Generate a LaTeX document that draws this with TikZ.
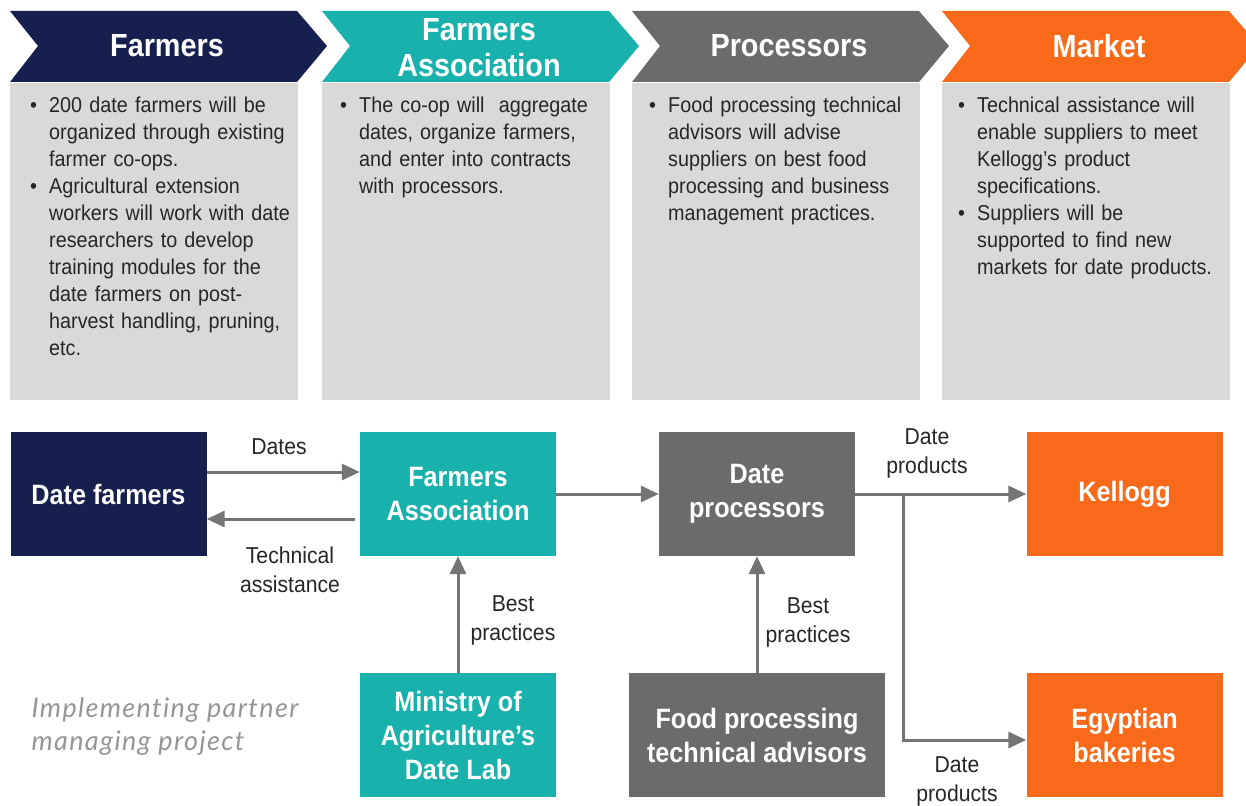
\documentclass[tikz,border=0pt]{standalone}
\usepackage{fontspec}
\setmainfont{Liberation Sans}
\newfontfamily\headfont{Liberation Sans}[FakeStretch=0.9]
\newfontfamily\bodyfont{Liberation Sans}[FakeStretch=0.92]
\newfontfamily\notefont{Lato}[LetterSpace=5,Ligatures=NoCommon]
\usetikzlibrary{arrows.meta}

\definecolor{farmnavy}{HTML}{16204E}
\definecolor{coopteal}{HTML}{19B1AC}
\definecolor{procgray}{HTML}{6B6B6D}
\definecolor{mktorange}{HTML}{F86A1A}
\definecolor{panelgray}{HTML}{D9D9D9}
\definecolor{linkgray}{HTML}{747474}
\definecolor{notegray}{HTML}{969696}

% bullet hung in the left margin of the text block
\newcommand{\bpoint}{\par\noindent\llap{\makebox[19pt][l]{\textbullet}}}

\begin{document}
\begin{tikzpicture}[x=1pt,y=-1pt,
	heading/.style={text=white,align=center,
		font=\headfont\bfseries\fontsize{32}{36}\selectfont},
	panel/.style={fill=panelgray},
	points/.style={anchor=north west,inner sep=0pt,text width=272pt,align=left,
		text=black!85,font=\bodyfont\fontsize{21.5}{27}\selectfont},
	unit/.style={minimum width=196pt,minimum height=124pt,inner sep=0pt,
		text=white,align=center,font=\headfont\bfseries\fontsize{28}{34}\selectfont},
	flow/.style={draw=linkgray,line width=3pt,-{Triangle[length=18pt,width=16pt]}},
	tag/.style={align=center,text=black!85,font=\bodyfont\fontsize{23}{29}\selectfont}]

	\useasboundingbox (0,0) rectangle (1246,805);
	\clip (0,0) rectangle (1246,805);

	%chevrons along the top
	\fill[farmnavy]  (10,11) -- ++(287,0) -- ++(30,35) -- ++(-30,36) -- ++(-287,0) -- ++(28,-36) -- cycle;
	\fill[coopteal]  (322,11) -- ++(287,0) -- ++(30,35) -- ++(-30,36) -- ++(-287,0) -- ++(28,-36) -- cycle;
	\fill[procgray]  (632,11) -- ++(287,0) -- ++(30,35) -- ++(-30,36) -- ++(-287,0) -- ++(28,-36) -- cycle;
	\fill[mktorange] (942,11) -- ++(287,0) -- ++(30,35) -- ++(-30,36) -- ++(-287,0) -- ++(28,-36) -- cycle;

	\node[heading] (hFarm) at (167,46) {Farmers};
	\node[heading] (hCoop) at (479,48) {Farmers\\Association};
	\node[heading] (hProc) at (789,46) {Processors};
	\node[heading] (hMkt)  at (1099,46) {Market};

	%grey panels under the chevrons
	\fill[panel] (10,83) rectangle (298,400);
	\fill[panel] (322,83) rectangle (610,400);
	\fill[panel] (632,83) rectangle (920,400);
	\fill[panel] (942,83) rectangle (1230,400);

	\node[points] (pFarm) at (30,85) {\leftskip=19pt
		\bpoint 200 date farmers will be\\organized through existing\\farmer co-ops.
		\bpoint Agricultural extension\\workers will work with date\\researchers to develop\\training modules for the\\date farmers on post-\\harvest handling, pruning,\\etc.\par};
	\node[points] (pCoop) at (340,85) {\leftskip=19pt
		\bpoint The co-op will\ \ aggregate\\dates, organize farmers,\\and enter into contracts\\with processors.\par};
	\node[points] (pProc) at (649,85) {\leftskip=19pt
		\bpoint Food processing technical\\advisors will advise\\suppliers on best food\\processing and business\\management practices.\par};
	\node[points] (pMkt) at (958,85) {\leftskip=19pt
		\bpoint Technical assistance will\\enable suppliers to meet\\Kellogg’s product\\specifications.
		\bpoint Suppliers will be\\supported to find new\\markets for date products.\par};

	%value chain boxes
	\node[unit,fill=farmnavy] (growers) at (108.5,494) {Date farmers};
	\node[unit,fill=coopteal] (assoc) at (458,494) {Farmers\\Association};
	\node[unit,fill=procgray] (procs) at (757,494) {Date\\processors};
	\node[unit,fill=mktorange] (kellogg) at (1124.5,494) {Kellogg};
	\node[unit,fill=coopteal] (datelab) at (458,735) {Ministry of\\Agriculture’s\\Date Lab};
	\node[unit,fill=procgray,minimum width=256pt] (advisors) at (757,735) {Food processing\\technical advisors};
	\node[unit,fill=mktorange] (bakeries) at (1124.5,735) {Egyptian\\bakeries};

	%flows
	\draw[flow] ([yshift=22pt]growers.east) -- ([yshift=22pt]assoc.west);
	\draw[flow] ([yshift=-25pt,xshift=-5pt]assoc.west) -- ([yshift=-25pt]growers.east);
	\draw[flow] (assoc) -- (procs);
	\draw[flow] (procs) -- (kellogg);
	\coordinate (split) at (903,494);
	\draw[flow] (split) |- ([yshift=-5pt]bakeries.west);
	\draw[flow] (datelab) -- (assoc);
	\draw[flow] (advisors) -- (procs);

	%labels
	\node[tag] (lDates) at (279,447) {Dates};
	\node[tag] (lTech) at (290,570) {Technical\\assistance};
	\node[tag] (lProdA) at (927,453) {Date\\products};
	\node[tag] (lProdB) at (957,781) {Date\\products};
	\node[tag] (lBestA) at (513,620) {Best\\practices};
	\node[tag] (lBestB) at (808,622) {Best\\practices};

	\node[anchor=west,align=left,text=notegray,
		font=\notefont\itshape\fontsize{27}{33}\selectfont] (note) at (28,727) {Implementing partner\\managing project};
\end{tikzpicture}
\end{document}
